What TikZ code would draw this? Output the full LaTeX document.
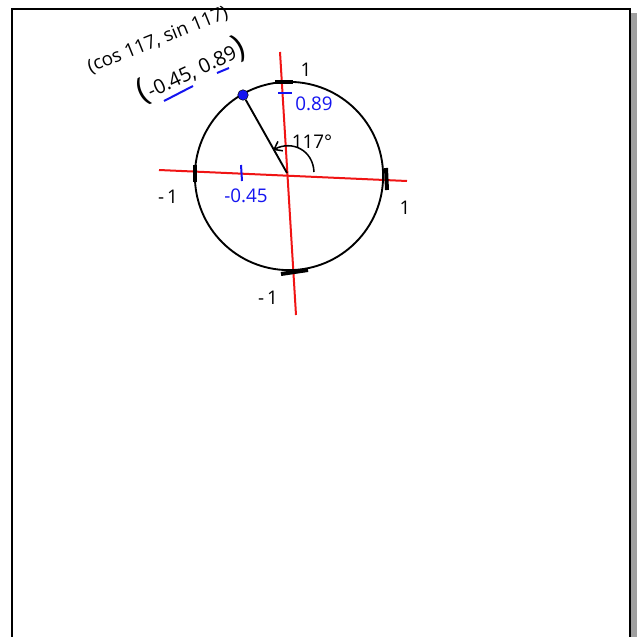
\documentclass[tikz,border=0pt]{standalone}
\usepackage{fontspec}
\setmainfont{Open Sans}
\usetikzlibrary{arrows.meta}
\definecolor{penblue}{RGB}{20,20,240}
\definecolor{penred}{RGB}{240,20,20}
\tikzset{
  axis/.style={penred, line width=1.7pt},
  pen/.style={black, line width=1.6pt},
  bluepen/.style={penblue, line width=1.7pt},
  thicktick/.style={black, line width=3.4pt},
  lbl/.style={inner sep=0pt, font=\fontsize{16}{16}\selectfont},
  bluelbl/.style={lbl, text=penblue},
  dot/.style={circle, fill=penblue, draw=black, line width=0.4pt, minimum size=9pt, inner sep=0pt},
}
\begin{document}
\begin{tikzpicture}[x=0.85pt, y=-0.85pt]
\useasboundingbox (0,0) rectangle (637,637);
\fill[white] (0,0) rectangle (637,637);
% frame and shadow
\fill[gray!75] (631,13) rectangle (637,637);
\draw[black, line width=2.2pt] (12,645) -- (12,9) -- (630,9) -- (630,645);
% axes
\coordinate (xl) at (159,170);
\coordinate (xr) at (407,181);
\coordinate (yt) at (280,52);
\coordinate (yb) at (296,315);
\draw[axis] (xl) -- (xr);
\draw[axis] (yt) -- (yb);
% circle
\coordinate (C) at (289,176);
\draw[pen] (C) circle[radius=80pt];
% thick ticks
\draw[thicktick] (275,82) -- (293,82);
\draw[thicktick] (386,168) -- (387,190);
\draw[thicktick] (195,165) -- (195,182);
\draw[thicktick] (281,274) -- (308,270);
% radius and point
\coordinate (O) at (287,173);
\node[dot] (P) at (243,95) {};
\draw[pen] (O) -- (P);
% angle arc
\coordinate (a1) at (314,172);
\coordinate (a2) at (273,150);
\draw[black, line width=1.3pt, -{Straight Barb[length=6pt, width=9pt]}] (a1) .. controls (313,150) and (292,140) .. (a2);
\node[lbl] (ang) at (312,142) {117°};
% axis labels
\node[lbl] (t1) at (306,70) {1};
\node[lbl] (r1) at (405,208) {1};
\node[lbl] (l1) at (168,197) {-\,1};
\node[lbl] (b1) at (268,298) {-\,1};
% blue ticks and values
\draw[bluepen] (241,165) -- (242,181);
\draw[bluepen] (278,93) -- (292,93);
\node[bluelbl] (xv) at (246,196) {-0.45};
\node[bluelbl] (yv) at (314,104) {0.89};
% top labels
\node[lbl, rotate=22, font=\fontsize{16}{16}\selectfont] (cs) at (158,40) {(cos 117, sin 117)};
\node[lbl, rotate=25, font=\fontsize{17}{17}\selectfont] (co) at (191,70) {{\fontsize{28}{28}\selectfont(}-0.45, 0.89{\fontsize{28}{28}\selectfont)}};
\draw[bluepen] (164,101) -- (193,86);
\draw[bluepen] (217,73) -- (229,68);
\end{tikzpicture}
\end{document}
